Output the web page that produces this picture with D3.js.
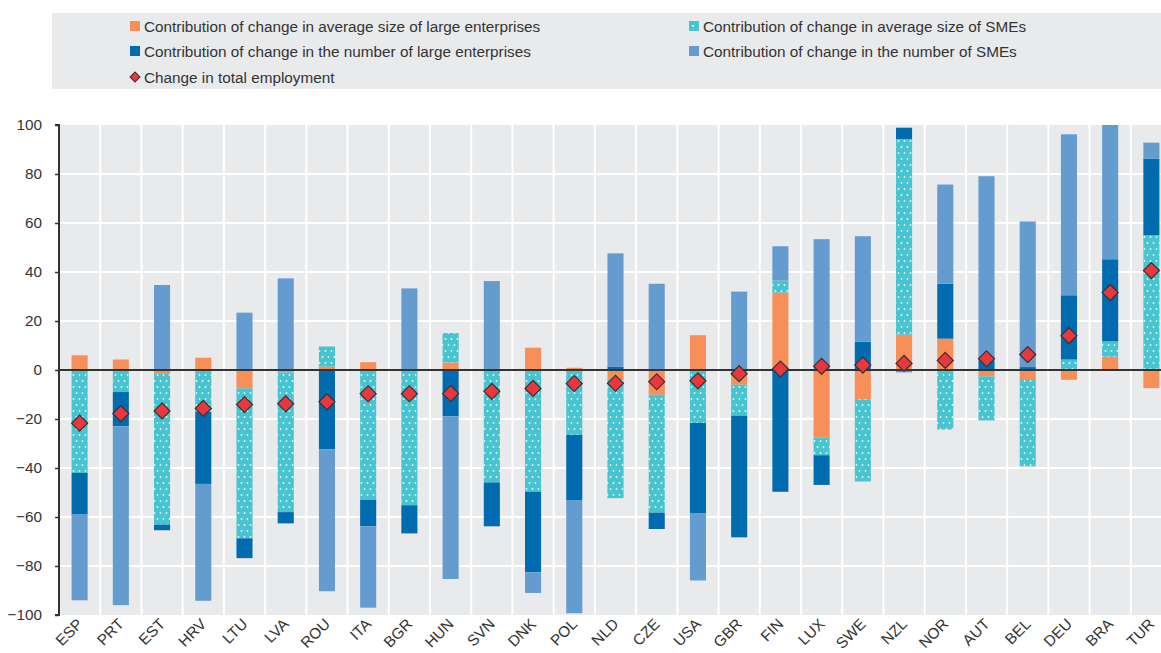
<!DOCTYPE html>
<html>
<head>
<meta charset="utf-8">
<script src="https://cdn.jsdelivr.net/npm/d3@7"></script>
<style>
    body { margin: 0; background: #fff; }
    svg text { font-family: "Liberation Sans Narrow", "Arial Narrow", "Liberation Sans", sans-serif; fill: #333; }
</style>
</head>
<body>
<svg id="chart"></svg>
<script>
const countries = ["ESP", "PRT", "EST", "HRV", "LTU", "LVA", "ROU", "ITA", "BGR", "HUN", "SVN", "DNK", "POL", "NLD",
    "CZE", "USA", "GBR", "FIN", "LUX", "SWE", "NZL", "NOR", "AUT", "BEL", "DEU", "BRA", "TUR"];

// contribution of change in average size of large enterprises
const sizeLarge = [6, 4.3, -1.6, 5, -7.5, -1, 1.4, 3.2, 0, 3.1, 0, 9.1, 0.9, -3.7,
    -10.1, 14.2, -6, 31.6, -27.5, -11.9, 14.4, 12.8, -2.6, -3.7, -4, 5.4, -7.4];
// contribution of change in average size of SMEs
const sizeSME = [-42, -9, -61.5, -17, -61.2, -57, 8.2, -53, -55.2, 12, -45.9, -49.7, -26.5, -48.6,
    -48.1, -21.6, -12.7, 4.9, -7.3, -33.6, 79.9, -24.3, -18, -35.6, 4.3, 6.3, 55];
// contribution of change in the number of large enterprises
const numLarge = [-17, -14, -2.3, -29.5, -8.1, -4.6, -32.4, -10.8, -11.5, -18.9, -17.9, -32.9, -26.8, 1.4,
    -6.7, -37, -49.6, -49.7, -12.1, 11.5, 4.6, 22.4, 4, 1.2, 26.2, 33.5, 31.2];
// contribution of change in the number of SMEs
const numSME = [-35, -73, 34.7, -47.7, 23.4, 37.4, -57.9, -33.2, 33.3, -66.4, 36.3, -8.4, -46, 46.2,
    35.2, -27.3, 32, 14, 53.4, 43.1, -1, 40.5, 75.1, 59.4, 65.7, 55, 6.6];
// change in total employment
const totalChange = [-21.7, -17.8, -16.7, -15.7, -14.1, -13.8, -13, -9.7, -9.7, -9.6, -8.7, -7.5, -5.5, -5.4,
    -4.8, -4.4, -1.5, 0.4, 1.5, 2, 2.7, 3.9, 4.6, 6.3, 14, 31.6, 40.6];

const yTicks = [-100, -80, -60, -40, -20, 0, 20, 40, 60, 80, 100];

const seriesKeys = ["sizeLarge", "sizeSME", "numLarge", "numSME"];
const seriesLabels = {
    sizeLarge: "Contribution of change in average size of large enterprises",
    sizeSME: "Contribution of change in average size of SMEs",
    numLarge: "Contribution of change in the number of large enterprises",
    numSME: "Contribution of change in the number of SMEs"
};
const colors = { sizeLarge: "#f68f58", sizeSME: "#48c3d0", numLarge: "#006bae", numSME: "#659cd0" };

const table = countries.map((c, i) => ({
    country: c, sizeLarge: sizeLarge[i], sizeSME: sizeSME[i], numLarge: numLarge[i], numSME: numSME[i], total: totalChange[i]
}));

const width = 1161, height = 653;
const fontSize = 15.3;
const svg = d3.select("#chart").attr("width", width).attr("height", height);

const defs = svg.append("defs");
const pat = defs.append("pattern")
    .attr("id", "dots")
    .attr("patternUnits", "userSpaceOnUse")
    .attr("width", 6).attr("height", 12);
pat.append("rect").attr("width", 6).attr("height", 12).attr("fill", colors.sizeSME);
pat.append("circle").attr("cx", 1.5).attr("cy", 3).attr("r", 0.9).attr("fill", "#fff").attr("opacity", 0.85);
pat.append("circle").attr("cx", 4.5).attr("cy", 9).attr("r", 0.9).attr("fill", "#fff").attr("opacity", 0.85);

const fills = { sizeLarge: colors.sizeLarge, sizeSME: "url(#dots)", numLarge: colors.numLarge, numSME: colors.numSME };

// legend
const legend = svg.append("g");
legend.append("rect").attr("x", 52).attr("y", 13).attr("width", width - 52).attr("height", 76).attr("fill", "#e9eaec");
const legendPos = [
    { key: "sizeLarge", x: 130, y: 26 },
    { key: "sizeSME", x: 689, y: 26 },
    { key: "numLarge", x: 130, y: 51 },
    { key: "numSME", x: 689, y: 51 }
];
legendPos.forEach(p => {
    legend.append("rect").attr("x", p.x).attr("y", p.y - 5).attr("width", 10).attr("height", 10)
        .attr("fill", p.key === "sizeSME" ? colors.sizeSME : colors[p.key]);
    if (p.key === "sizeSME") {
        legend.append("circle").attr("cx", p.x + 4).attr("cy", p.y).attr("r", 0.9).attr("fill", "#fff");
    }
    legend.append("text").attr("x", p.x + 14).attr("y", p.y + 5.5).attr("font-size", fontSize).text(seriesLabels[p.key]);
});
legend.append("path")
    .attr("d", d3.symbol(d3.symbolSquare, 50)())
    .attr("transform", "translate(135,77) rotate(45)")
    .attr("fill", "#e8383e").attr("stroke", "#333").attr("stroke-width", 1);
legend.append("text").attr("x", 144).attr("y", 82.5).attr("font-size", fontSize).text("Change in total employment");

// plot
const plotLeft = 59, plotTop = 125, plotBottom = 615;

const x = d3.scaleBand()
    .domain(countries)
    .range([plotLeft, 1172])
    .paddingInner(0.61)
    .paddingOuter(0.305);

const y = d3.scaleLinear().domain([-100, 100]).range([plotBottom, plotTop]);

const plot = svg.append("g");
plot.append("rect").attr("x", plotLeft).attr("y", plotTop)
    .attr("width", width - plotLeft).attr("height", plotBottom - plotTop).attr("fill", "#e9eaec");

// grid
plot.append("g").selectAll("line.h")
    .data(yTicks.filter(t => t !== 0 && t !== -100 && t !== 100))
    .join("line")
    .attr("x1", plotLeft).attr("x2", width)
    .attr("y1", d => y(d)).attr("y2", d => y(d))
    .attr("stroke", "#fff").attr("stroke-width", 2);

const step = x.step();
plot.append("g").selectAll("line.v")
    .data(countries.slice(1))
    .join("line")
    .attr("x1", d => x(d) - step * x.paddingInner() / 2)
    .attr("x2", d => x(d) - step * x.paddingInner() / 2)
    .attr("y1", plotTop).attr("y2", plotBottom)
    .attr("stroke", "#fff").attr("stroke-width", 2);

const stack = d3.stack().keys(seriesKeys).offset(d3.stackOffsetDiverging);
const stacked = stack(table);

plot.append("g").selectAll("g")
    .data(stacked)
    .join("g")
    .attr("fill", d => fills[d.key])
    .selectAll("rect")
    .data(d => d)
    .join("rect")
    .attr("x", d => x(d.data.country))
    .attr("width", x.bandwidth())
    .attr("y", d => y(Math.min(100, Math.max(d[0], d[1]))))
    .attr("height", d => Math.abs(y(Math.min(100, d[0])) - y(Math.min(100, d[1]))));

// zero line
plot.append("line")
    .attr("x1", plotLeft).attr("x2", width)
    .attr("y1", y(0)).attr("y2", y(0))
    .attr("stroke", "#333").attr("stroke-width", 2);

// y axis
const yAxis = plot.append("g")
    .attr("transform", `translate(${plotLeft},0)`)
    .call(d3.axisLeft(y).tickValues(yTicks).tickSize(4).tickPadding(13).tickFormat(d3.format("d")));
yAxis.select(".domain").attr("stroke", "#333").attr("stroke-width", 2).attr("d", `M-4,${plotTop}H0V${plotBottom}H-4`);
yAxis.selectAll(".tick line").attr("stroke", "#333").attr("stroke-width", 1.5);
yAxis.selectAll(".tick text").attr("font-size", fontSize).attr("fill", "#333")
    .style("font-family", '"Liberation Sans Narrow", "Arial Narrow", sans-serif');

// x labels
plot.append("g").selectAll("text")
    .data(countries)
    .join("text")
    .attr("transform", d => `translate(${x(d) + x.bandwidth() / 2 + 4},625) rotate(-45)`)
    .attr("text-anchor", "end")
    .attr("font-size", fontSize)
    .text(d => d);

// total employment markers
plot.append("g").selectAll("path")
    .data(table)
    .join("path")
    .attr("d", d3.symbol(d3.symbolSquare, 128)())
    .attr("transform", d => `translate(${x(d.country) + x.bandwidth() / 2},${y(d.total)}) rotate(45)`)
    .attr("fill", "#e8383e").attr("stroke", "#333").attr("stroke-width", 1.2);
</script>
</body>
</html>
